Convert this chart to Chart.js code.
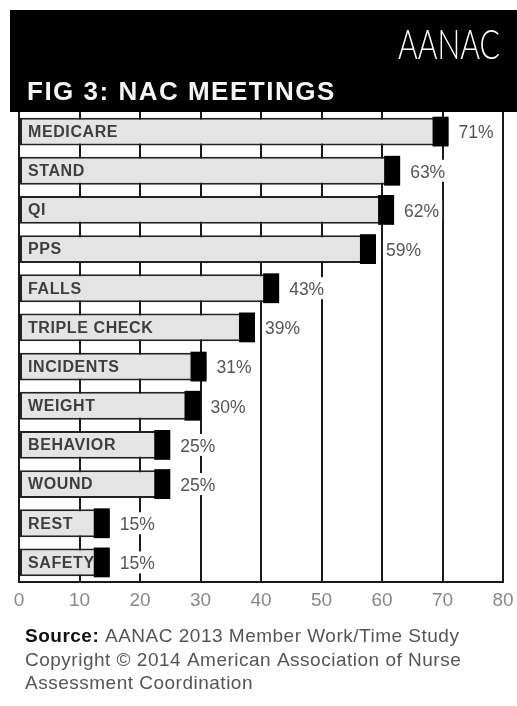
<!DOCTYPE html>
<html><head><meta charset="utf-8">
<script src="https://cdn.jsdelivr.net/npm/chart.js@4.4.1/dist/chart.umd.min.js"></script>
<style>html,body{margin:0;padding:0;background:#fff;}#wrap{width:517px;height:706px;}</style>
</head><body><div id="wrap"><canvas id="c" width="517" height="706"></canvas></div>
<script>
const categories = ['MEDICARE','STAND','QI','PPS','FALLS','TRIPLE CHECK','INCIDENTS','WEIGHT','BEHAVIOR','WOUND','REST','SAFETY'];
const values = [71,63,62,59,43,39,31,30,25,25,15,15];
const xTicks = [0,10,20,30,40,50,60,70,80];
const titleText = 'FIG 3: NAC MEETINGS';
const logoText = 'AANAC';
const sourceBold = 'Source:';
const sourceRest = ' AANAC 2013 Member Work/Time Study';
const copyrightLines = ['Copyright \u00A9 2014 American Association of Nurse','Assessment Coordination'];

const decor = {
  id: 'decor',
  beforeDraw(chart) {
    const ctx = chart.ctx;
    ctx.save();
    ctx.fillStyle = '#fff';
    ctx.fillRect(0, 0, chart.width, chart.height);
    ctx.restore();
  },
  afterDatasetsDraw(chart) {
    const ctx = chart.ctx;
    const meta = chart.getDatasetMeta(0);
    const left = chart.chartArea.left;
    ctx.save();
    meta.data.forEach((bar, i) => {
      const h = bar.height, x = bar.x, y = bar.y;
      ctx.fillStyle = '#000';
      ctx.fillRect(x - 16, y - h / 2 - 1, 16, h + 2);
      ctx.font = 'bold 16px "Liberation Sans"';
      ctx.letterSpacing = '0.6px';
      ctx.fillStyle = '#3e3e3e';
      ctx.textBaseline = 'middle';
      ctx.textAlign = 'left';
      ctx.fillText(categories[i], left + 9, y + 1);
      ctx.font = '17.5px "Liberation Sans"';
      ctx.letterSpacing = '0px';
      const t = values[i] + '%';
      const w = ctx.measureText(t).width;
      ctx.fillStyle = '#fff';
      ctx.fillRect(x + 7, y - 11, w + 6, 22);
      ctx.fillStyle = '#555';
      ctx.fillText(t, x + 10, y + 2);
    });
    ctx.restore();
  },
  afterDraw(chart) {
    const ctx = chart.ctx;
    ctx.save();
    // header
    ctx.fillStyle = '#000';
    ctx.fillRect(10, 10, chart.width - 10, chart.chartArea.top - 10);
    ctx.fillStyle = '#f4f4f4';
    ctx.font = 'bold 26px "Liberation Sans"';
    ctx.letterSpacing = '1.5px';
    ctx.textBaseline = 'alphabetic';
    ctx.textAlign = 'left';
    ctx.fillText(titleText, 27, 100);
    // logo
    ctx.letterSpacing = '0px';
    ctx.font = '300 42px Lato, "Liberation Sans"';
    const lw = ctx.measureText(logoText).width;
    ctx.save();
    ctx.translate(398, 59);
    ctx.scale(102 / lw, 1);
    ctx.fillStyle = '#fff';
    ctx.fillText(logoText, 0, 0);
    ctx.restore();
    // source
    ctx.letterSpacing = '0.5px';
    ctx.font = 'bold 19px "Liberation Sans"';
    ctx.fillStyle = '#111';
    ctx.fillText(sourceBold, 25, 642);
    const bw = ctx.measureText(sourceBold).width;
    ctx.font = '19px "Liberation Sans"';
    ctx.fillStyle = '#555';
    ctx.fillText(sourceRest, 25 + bw, 642);
    ctx.fillText(copyrightLines[0], 25, 666);
    ctx.fillText(copyrightLines[1], 25, 689);
    ctx.restore();
  }
};

new Chart(document.getElementById('c'), {
  type: 'bar',
  data: {
    labels: categories,
    datasets: [{
      data: values,
      backgroundColor: '#e4e4e4',
      borderColor: '#222',
      borderWidth: 2,
      borderSkipped: false,
      categoryPercentage: 1,
      barPercentage: 0.71
    }]
  },
  options: {
    indexAxis: 'y',
    responsive: false,
    devicePixelRatio: 1,
    animation: false,
    layout: { padding: { top: 112, left: 19, right: 14, bottom: 0 } },
    plugins: { legend: { display: false }, tooltip: { enabled: false } },
    scales: {
      x: {
        type: 'linear', min: 0, max: 80,
        afterBuildTicks: s => { s.ticks = xTicks.map(v => ({ value: v })); },
        afterFit: s => { s.height = 124; s.paddingRight = 0; s.paddingLeft = 0; },
        grid: { color: '#1a1a1a', lineWidth: 2, drawTicks: false },
        border: { display: true, color: '#1a1a1a', width: 2 },
        ticks: { color: '#888', font: { family: 'Liberation Sans', size: 19 }, padding: 7 }
      },
      y: { display: false }
    }
  },
  plugins: [decor]
});
</script></body></html>
